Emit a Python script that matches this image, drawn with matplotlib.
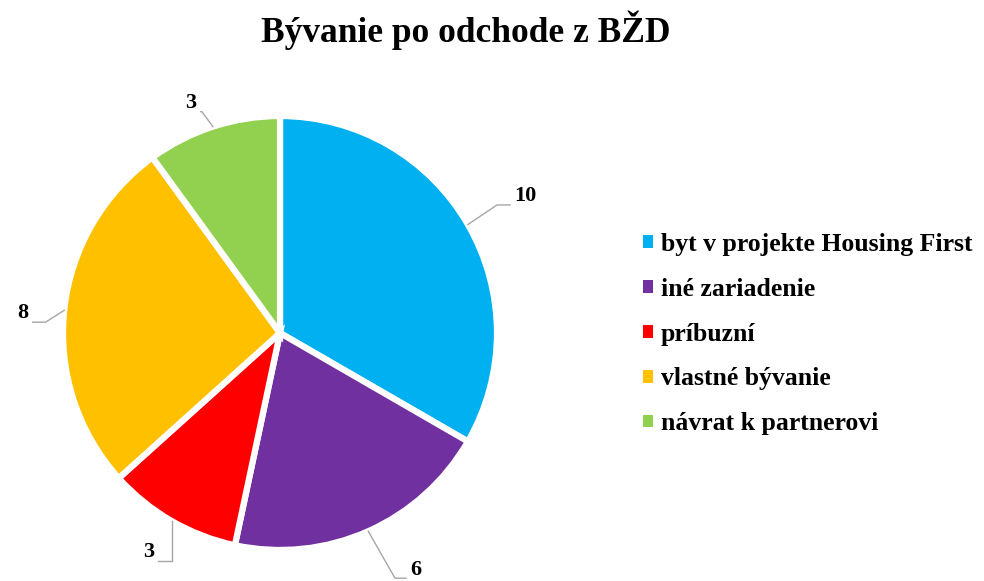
import numpy as np
import matplotlib
matplotlib.use("Agg")
import matplotlib.pyplot as plt
from matplotlib.patches import Patch

plt.rcParams['font.family'] = ['Liberation Serif', 'DejaVu Serif']
plt.rcParams['font.weight'] = 'bold'

title = "Bývanie po odchode z BŽD"
categories = ["byt v projekte Housing First", "iné zariadenie", "príbuzní",
              "vlastné bývanie", "návrat k partnerovi"]
values = [10, 6, 3, 8, 3]
colors = ["#00B0F0", "#7030A0", "#FF0000", "#FFC000", "#92D050"]

# label layout: (elbow x, elbow y, text end x) in data units, pie radius = 1
label_layout = [
	(1.00, 0.59, 1.06),
	(0.53, -1.13, 0.58),
	(-0.50, -1.05, -0.56),
	(-1.08, 0.05, -1.14),
	(-0.36, 1.02, -0.365),
]

W, H = 984, 581
fig = plt.figure(figsize=(W/100, H/100), dpi=100)

cx, cy, R = 280, 581-333, 217
span = 1.5
ax = fig.add_axes([(cx-span*R)/W, (cy-span*R)/H, 2*span*R/W, 2*span*R/H])

wedges, _ = ax.pie(values, colors=colors, startangle=90, counterclock=False,
	radius=1.0, wedgeprops=dict(edgecolor='white', linewidth=4.5))
ax.set_xlim(-span, span)
ax.set_ylim(-span, span)
ax.set_aspect('equal')
ax.axis('off')

total = sum(values)
cum = 0
for i, v in enumerate(values):
	mid = np.deg2rad(90 - 360*(cum + v/2)/total)
	cum += v
	x0, y0 = np.cos(mid), np.sin(mid)
	ex, ey, tx = label_layout[i]
	ax.plot([x0, ex, tx], [y0, ey, ey], color='#A6A6A6', lw=1, clip_on=False)
	ha = 'left' if tx >= ex else 'right'
	ax.text(tx + (0.02 if ha == 'left' else -0.02), ey + 0.04, str(v), ha=ha, va='center',
		fontsize=16, fontweight='bold', clip_on=False)

fig.text(466/W, 1-30/H, title, ha='center', va='center', fontsize=25.5, fontweight='bold')

handles = [Patch(facecolor=c, edgecolor='none') for c in colors]
fig.legend(handles, categories, loc='center left', bbox_to_anchor=(620/W, 1-334/H),
	frameon=False, fontsize=18.5, handlelength=0.4, handleheight=0.4, handletextpad=0.3,
	labelspacing=0.85)

fig.savefig("out.png", dpi=100)
